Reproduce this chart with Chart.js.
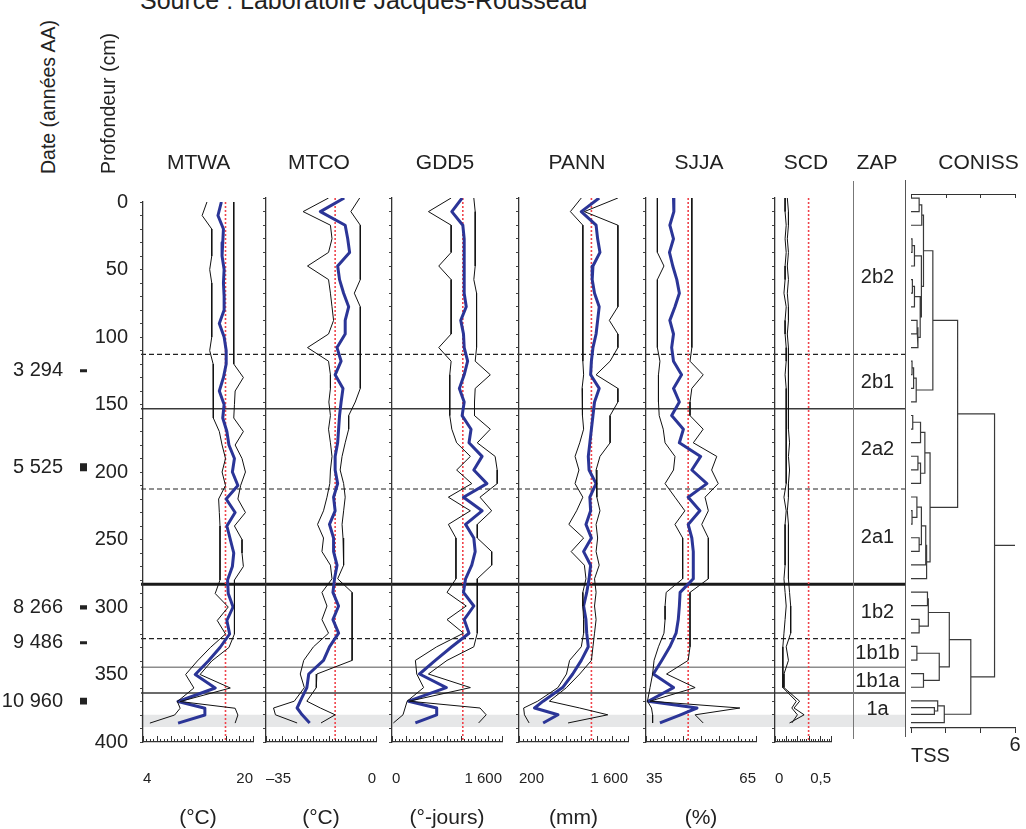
<!DOCTYPE html>
<html lang="fr"><head><meta charset="utf-8"><title>Reconstitution paléoclimatique</title>
<script src="https://cdn.jsdelivr.net/npm/chart.js@4.4.1/dist/chart.umd.min.js"></script>
<style>
html,body{margin:0;padding:0;background:#fff;width:1026px;height:829px;overflow:hidden;position:relative;font-family:'Liberation Sans',Arial,Helvetica,sans-serif;color:#222}
canvas{position:absolute}
.t{position:absolute;white-space:nowrap;line-height:1;color:#222}
.v{position:absolute;white-space:nowrap;line-height:1;color:#222;transform:rotate(-90deg);transform-origin:0 0}
.sep{position:absolute;width:0}
</style></head>
<body>
<script>
// ================= DATA =================
const depths = [0,10,20,30,40,50,60,70,80,90,100,110,120,130,140,150,160,170,180,190,200,210,220,230,240,250,260,270,280,290,300,310,320,330,340,350,360,370,375,380,386];

const mtwaMean = [15.4,14.9,15.7,15.6,15.5,15.8,15.7,15.8,15.8,15.1,15.8,16.1,16.1,15.7,15.1,15.8,15.6,16.2,16.5,17.3,17.0,17.8,16.1,17.4,16.2,16.7,17.2,17.0,16.3,16.4,17.1,16.2,16.6,15.2,13.5,11.6,14.5,9.1,13.0,13.0,9.1];
const mtwaLow  = [13.3,12.6,14.0,14.0,14.0,13.7,14.0,14.0,14.0,14.0,14.0,13.7,14.2,14.2,14.2,14.2,14.3,15.1,15.5,16.0,15.5,16.0,15.0,15.1,15.2,15.2,15.2,15.2,15.2,14.5,16.4,14.8,16.0,13.8,11.9,10.2,11.4,9.0,9.4,8.6,5.0];
const mtwaHigh = [17.2,17.2,17.2,17.2,17.2,17.2,17.2,17.2,17.2,17.2,17.2,17.2,17.2,18.6,17.4,17.3,17.2,18.6,17.4,18.4,18.9,18.2,17.8,18.9,17.3,18.4,18.4,18.6,17.3,17.3,17.3,17.3,17.3,16.5,14.0,12.3,16.7,9.4,17.4,17.8,17.4];
const mtwaModern = 16.0;

const mtcoMean = [-10.1,-17.7,-9.8,-9.0,-8.4,-12.2,-11.6,-10.3,-8.7,-9.8,-9.8,-12.4,-11.1,-13.0,-10.5,-11.1,-11.6,-11.9,-12.2,-13.0,-13.0,-12.2,-13.5,-13.0,-14.8,-13.5,-13.5,-12.4,-13.2,-13.7,-11.9,-13.7,-11.9,-14.8,-16.7,-21.4,-22.0,-24.1,-25.1,-23.5,-21.1];
const mtcoLow  = [-15.1,-23.2,-14.5,-14.0,-15.1,-21.8,-15.1,-14.5,-14.0,-13.5,-15.1,-21.8,-15.1,-14.5,-14.5,-15.0,-14.5,-15.1,-14.5,-14.0,-14.5,-14.7,-15.6,-16.7,-18.6,-16.7,-17.2,-14.5,-14.0,-17.2,-15.6,-17.2,-15.1,-19.9,-23.0,-24.1,-22.8,-26.0,-32.6,-32.0,-25.1];
const mtcoHigh = [-5.2,-8.0,-5.0,-5.0,-5.0,-5.0,-5.0,-6.9,-5.0,-5.0,-5.0,-5.0,-5.0,-5.0,-5.0,-6.6,-8.7,-8.7,-9.8,-10.8,-11.4,-10.3,-9.8,-10.3,-10.8,-10.5,-10.3,-10.3,-12.2,-7.6,-7.6,-7.6,-7.6,-7.6,-7.6,-18.8,-19.0,-22.0,-17.7,-13.0,-17.5];
const mtcoModern = -13.0;

const gdd5Mean = [1020,870,1030,1050,1050,1050,1050,1050,1080,1000,1040,1050,1100,1050,980,1050,1020,1150,1120,1310,1190,1380,1040,1310,1070,1190,1210,1160,1070,1040,1190,1050,1120,870,630,400,790,240,650,650,340];
const gdd5Low  = [860,530,860,860,860,680,860,860,860,860,860,680,860,840,840,840,840,870,940,1140,940,1160,820,1140,820,930,930,930,930,800,1080,800,1040,650,340,360,460,220,190,160,20];
const gdd5High = [1190,1210,1210,1210,1210,1210,1190,1230,1230,1230,1230,1230,1210,1430,1210,1200,1200,1430,1240,1500,1530,1530,1280,1450,1240,1240,1450,1450,1240,1240,1240,1240,1240,1190,800,530,1140,250,1280,1370,1260];
const gdd5Modern = 1030;

const pannMean = [1230,1000,1190,1210,1240,1150,1140,1170,1230,1210,1190,1150,1130,1120,1230,1170,1150,1130,1110,1090,1100,1190,1110,1120,1060,1130,1030,1120,1100,1070,1030,1060,1070,1090,1000,890,760,510,400,700,510];
const pannLow  = [1000,860,1020,1020,1020,1020,1020,1020,1020,1020,1020,1020,1020,1030,1010,1020,1010,1030,980,920,970,920,1020,940,840,1030,870,1040,1060,1020,1020,1030,1030,1000,850,810,700,440,260,270,330];
const pannHigh = [1470,1040,1470,1470,1470,1470,1470,1470,1470,1360,1470,1470,1370,1190,1470,1470,1370,1370,1370,1240,1190,1200,1200,1240,1190,1210,1190,1230,1170,1190,1170,1190,1170,1150,1130,980,810,590,980,1340,830];
const pannModern = 1130;

const sjjaMean = [42.5,42.6,41.5,42.5,41.4,42.3,43.4,44.1,42.9,41.5,42.5,42.0,42.5,44.7,42.5,44.1,42.0,45.2,44.1,49.9,47.5,51.6,46.5,49.7,46.5,47.5,47.9,47.9,47.9,44.3,44.1,43.8,43.2,41.5,39.3,37.0,42.5,35.6,48.9,44.4,38.8];
const sjjaLow  = [38.1,38.1,38.1,38.1,38.1,39.9,38.1,38.1,38.1,38.1,38.1,38.1,38.8,38.4,38.4,38.4,38.6,39.7,40.2,42.9,42.5,40.2,42.9,45.6,42.9,45.0,45.0,45.0,45.0,40.5,40.2,40.2,39.9,38.4,37.2,36.8,36.1,35.4,36.5,36.8,36.8];
const sjjaHigh = [47.5,47.5,47.5,47.5,47.5,47.5,47.5,47.5,47.5,47.5,47.5,47.5,47.0,50.6,47.5,47.0,47.0,50.6,47.9,54.3,52.9,54.7,51.1,52.0,50.2,52.0,52.0,52.0,52.0,47.0,47.0,47.0,47.0,47.0,46.5,40.6,48.4,36.1,60.6,48.4,50.6];
const sjjaModern = 46.5;

const scdLow  = [0.09,0.09,0.10,0.09,0.10,0.09,0.09,0.08,0.10,0.09,0.09,0.10,0.10,0.09,0.10,0.10,0.10,0.10,0.10,0.10,0.10,0.10,0.08,0.10,0.09,0.09,0.09,0.09,0.08,0.09,0.10,0.09,0.08,0.07,0.07,0.07,0.07,0.19,0.15,0.20,0.15];
const scdHigh = [0.11,0.12,0.12,0.11,0.12,0.11,0.12,0.11,0.12,0.12,0.11,0.12,0.12,0.12,0.12,0.12,0.12,0.12,0.13,0.12,0.13,0.12,0.12,0.11,0.12,0.12,0.12,0.12,0.12,0.13,0.14,0.14,0.14,0.10,0.12,0.08,0.08,0.22,0.17,0.26,0.13];
const scdModern = 0.3;

const panelNames = ['MTWA','MTCO','GDD5','PANN','SJJA','SCD'];
const panelUnits = ['(°C)','(°C)','(°-jours)','(mm)','(%)',''];
const axisMin = [4,-35,0,200,35,0];
const axisMax = [20,0,1600,1600,65,0.5];
const axisTickLabels = [['4','20'],['\u201335','0'],['0','1 600'],['200','1 600'],['35','65'],['0','0,5']];
const minorStep = [0.5,1,50,50,1,0.02];
const majorStep = [2,5,200,200,5,0.1];

// zones (ZAP)
const zoneNames = ['2b2','2b1','2a2','2a1','1b2','1b1b','1b1a','1a'];
const zoneTops  = [0,115,155,214,284,324,345,364];
const zoneBase  = 386;
const boundaryDepths = [115,155,214,284,324,345,364];
const boundaryLevel  = [3,2,3,1,3,4,2];
const bandTop = 380, bandBottom = 389;

// dates
const dateDepths = [127,198,301,327,370];
const dateLabels = ['3 294','5 525','8 266','9 486','10 960'];
const dateThickness = [2.2,6,3,2.2,5];

// CONISS: [childA, childB, TSS] ; numbers = sample index, 'mK' = merge K
const coniss = [
 [0,1,0.47],['m0',2,0.62],[3,4,0.06],['m2',5,0.2],[6,7,0.08],['m4',8,0.2],[9,10,0.35],['m6',11,0.4],
 ['m5','m7',0.53],['m3','m8',0.6],['m1','m9',0.72],[12,13,0.06],['m11',14,0.15],['m12',15,0.3],['m10','m13',1.26],
 [16,17,0.1],['m15',18,0.55],[19,20,0.4],['m17',21,0.55],['m16','m18',0.8],[23,24,0.06],[22,'m20',0.34],[25,26,0.47],
 ['m21','m22',0.6],['m23',27,0.85],['m24',28,0.9],['m19','m25',1.1],['m14','m26',2.69],
 [29,30,0.95],[31,32,0.47],['m28','m29',1.0],[33,34,0.34],[35,36,0.72],['m31','m32',1.63],['m30','m33',2.21],
 [38,39,1.35],[37,'m35',1.54],['m36',40,1.92],['m34','m37',3.45],['m27','m38',4.82]
];
const tssMax = 6;

// ================= DRAWING =================
Chart.defaults.font.family = "'Liberation Sans', Arial, Helvetica, sans-serif";
Chart.defaults.color = '#222';

const panelMeans = [mtwaMean,mtcoMean,gdd5Mean,pannMean,sjjaMean,null];
const panelLows  = [mtwaLow,mtcoLow,gdd5Low,pannLow,sjjaLow,scdLow];
const panelHighs = [mtwaHigh,mtcoHigh,gdd5High,pannHigh,sjjaHigh,scdHigh];
const panelModern = [mtwaModern,mtcoModern,gdd5Modern,pannModern,sjjaModern,scdModern];

// layout (pixels)
const PLOT_TOP = 198, PLOT_H = 544, PAD_T = 20, XAX_H = 89, LBL_PAD = 28;
const panelX = [143,266,392,519,646,775];
const panelW = [110,110,110,109,110,56];
const titleX = [198.7,319,445,577,699,806];

function makeCanvas(left, top, w, h) {
  const c = document.createElement('canvas');
  c.width = w; c.height = h;
  c.style.left = left + 'px'; c.style.top = top + 'px';
  c.style.width = w + 'px'; c.style.height = h + 'px';
  document.body.appendChild(c);
  return c;
}
function addText(txt, x, capY, size, anchor) {
  const d = document.createElement('div');
  d.className = 't'; d.textContent = txt; d.style.fontSize = size + 'px';
  d.style.top = (capY - 0.4885 * size) + 'px';
  d.style.left = x + 'px';
  if (anchor === 'center') d.style.transform = 'translateX(-50%)';
  document.body.appendChild(d);
}
function addVText(txt, left, bottom, size) {
  const d = document.createElement('div');
  d.className = 'v'; d.textContent = txt; d.style.fontSize = size + 'px';
  d.style.left = left + 'px'; d.style.top = bottom + 'px';
  document.body.appendChild(d);
}
function addSep(x, y1, y2, w, color) {
  const d = document.createElement('div');
  d.className = 'sep';
  d.style.left = x + 'px'; d.style.top = y1 + 'px'; d.style.height = (y2 - y1) + 'px';
  d.style.borderLeft = w + 'px solid ' + color;
  document.body.appendChild(d);
}
const zip = (vals) => vals.map((v, i) => ({x: v, y: depths[i]}));

function edgeTicksPlugin(sets) {
  return { id: 'edgeTicks', afterDraw(chart) {
    const ctx = chart.ctx, a = chart.chartArea;
    ctx.save(); ctx.lineWidth = 1; ctx.strokeStyle = '#333'; ctx.beginPath();
    sets.forEach(s => {
      const sc = chart.scales[s.scale];
      const n = Math.round((s.to - s.from) / s.step);
      const y0 = s.edge === 'top' ? a.top : a.bottom;
      for (let i = 0; i <= n; i++) {
        const x = Math.round(sc.getPixelForValue(s.from + i * s.step)) + 0.5;
        ctx.moveTo(x, y0); ctx.lineTo(x, y0 + s.dir * s.len);
      }
      if (s.line) {
        ctx.moveTo(sc.getPixelForValue(s.from), Math.round(y0) + 0.5);
        ctx.lineTo(sc.getPixelForValue(s.to) + 1, Math.round(y0) + 0.5);
      }
    });
    ctx.stroke(); ctx.restore();
  }};
}
const depthTicks = () => { const t = []; for (let d = 0; d <= 400; d += 10) t.push({value: d}); return t; };
const baseOpts = { responsive: false, animation: false, events: [], devicePixelRatio: 1,
  plugins: { legend: {display: false}, tooltip: {enabled: false} } };

// ---- background: zone boundaries and grey band ----
(function () {
  const left = 141, width = 765;
  const c = makeCanvas(left, PLOT_TOP - PAD_T, width, PLOT_H + 2 * PAD_T);
  const styleOf = lvl => lvl === 1 ? {borderColor: '#1a1a1a', borderWidth: 3}
    : lvl === 2 ? {borderColor: '#3a3a3a', borderWidth: 1.4}
    : lvl === 3 ? {borderColor: '#222', borderWidth: 1.1, borderDash: [5, 3]}
    : {borderColor: '#8c8c8c', borderWidth: 1.6};
  const ds = [
    {data: [{x: 0, y: bandTop}, {x: 1, y: bandTop}], borderWidth: 0, pointRadius: 0},
    {data: [{x: 0, y: bandBottom}, {x: 1, y: bandBottom}], borderWidth: 0, pointRadius: 0, fill: '-1', backgroundColor: '#e6e7e8'}
  ];
  boundaryDepths.forEach((d, i) => ds.push(Object.assign({data: [{x: 0, y: d}, {x: 1, y: d}], pointRadius: 0}, styleOf(boundaryLevel[i]))));
  const zapLabels = { id: 'zapLabels', afterDatasetsDraw(chart) {
    const ctx = chart.ctx, ys = chart.scales.y, a = chart.chartArea;
    ctx.save(); ctx.fillStyle = '#222'; ctx.font = "20px 'Liberation Sans', Arial, sans-serif";
    ctx.textAlign = 'center'; ctx.textBaseline = 'middle';
    zoneNames.forEach((n, i) => {
      const bot = i < zoneTops.length - 1 ? zoneTops[i + 1] : zoneBase;
      ctx.fillText(n, a.right - 28.5, ys.getPixelForValue((zoneTops[i] + bot) / 2) + 1);
    });
    ctx.restore();
  }};
  new Chart(c, { type: 'line', data: {datasets: ds}, plugins: [zapLabels],
    options: Object.assign({}, baseOpts, {
      layout: {padding: {top: PAD_T, bottom: PAD_T, left: 0, right: 0}},
      scales: { x: {type: 'linear', display: false, min: 0, max: 1},
                y: {type: 'linear', display: false, min: 0, max: 400, reverse: true} }
    })});
})();

// ---- panels ----
panelNames.forEach((name, i) => {
  // the y axis box and right padding must be at least the tick-label padding (Chart.js adds it horizontally)
  const YW = i === 0 ? 60 : LBL_PAD + 2, RP = LBL_PAD + 2;
  const c = makeCanvas(panelX[i] - YW, PLOT_TOP - PAD_T, YW + panelW[i] + RP, PAD_T + PLOT_H + XAX_H);
  const ds = [
    {data: zip(panelLows[i]), borderColor: '#111', borderWidth: 1},
    {data: zip(panelHighs[i]), borderColor: '#111', borderWidth: 1}
  ];
  if (panelMeans[i]) ds.push({data: zip(panelMeans[i]), borderColor: '#2b3597', borderWidth: 3, borderJoinStyle: 'round'});
  ds.push({data: [{x: panelModern[i], y: 0}, {x: panelModern[i], y: 400}], borderColor: '#f0434b', borderWidth: 1.6, borderDash: [2, 2]});
  ds.forEach(d => { d.showLine = true; d.pointRadius = 0; d.tension = 0; });
  const ticks = edgeTicksPlugin([
    {scale: 'x', edge: 'bottom', dir: -1, from: axisMin[i], to: axisMax[i], step: minorStep[i], len: 3},
    {scale: 'x', edge: 'bottom', dir: -1, from: axisMin[i], to: axisMax[i], step: majorStep[i], len: 6}
  ]);
  new Chart(c, { type: 'scatter', data: {datasets: ds}, plugins: [ticks],
    options: Object.assign({}, baseOpts, {
      layout: {padding: {top: PAD_T, right: RP, left: 0, bottom: 0}},
      scales: {
        x: { type: 'linear', position: 'bottom', min: axisMin[i], max: axisMax[i],
             afterFit: s => { s.height = XAX_H; },
             afterBuildTicks: s => { s.ticks = [{value: axisMin[i]}, {value: axisMax[i]}]; },
             ticks: { align: 'inner', padding: LBL_PAD, maxRotation: 0, autoSkip: false, font: {size: 15}, color: '#222',
                      callback: (v, k) => axisTickLabels[i][k] },
             grid: { display: true, drawOnChartArea: false, drawTicks: false },
             border: { display: true, color: '#333', width: 1.2 },
             title: { display: panelUnits[i] !== '', text: panelUnits[i], font: {size: 21}, color: '#222', padding: 0 } },
        y: { type: 'linear', position: 'left', min: 0, max: 400, reverse: true,
             afterFit: s => { s.width = YW; },
             afterBuildTicks: s => { s.ticks = depthTicks(); },
             ticks: { display: i === 0, autoSkip: false, padding: 12, font: {size: 20}, color: '#222',
                      callback: v => (v % 50 === 0 ? String(v) : '') },
             grid: { display: true, drawOnChartArea: false, drawTicks: true, tickLength: 3, color: '#444' },
             border: { display: true, color: '#333', width: 1.3 } }
      }
    })});
});

// ---- dates ----
(function () {
  const c = makeCanvas(0, PLOT_TOP - PAD_T, 89, PLOT_H + 2 * PAD_T);
  const pts = [];
  dateDepths.forEach((d, i) => { pts.push({x: 0.5, y: d - dateThickness[i] / 2}, {x: 0.5, y: d + dateThickness[i] / 2}, {x: null, y: null}); });
  new Chart(c, { type: 'scatter',
    data: {datasets: [{data: pts, showLine: true, pointRadius: 0, borderColor: '#222', borderWidth: 7, borderCapStyle: 'butt', spanGaps: false}]},
    options: Object.assign({}, baseOpts, {
      layout: {padding: {top: PAD_T, bottom: PAD_T, left: 0, right: 0}},
      scales: {
        x: {type: 'linear', display: false, min: 0, max: 1},
        y: { type: 'linear', position: 'left', min: 0, max: 400, reverse: true,
             afterFit: s => { s.width = 78; },
             afterBuildTicks: s => { s.ticks = dateDepths.map(v => ({value: v})); },
             ticks: { autoSkip: false, padding: 7, font: {size: 20}, color: '#222', callback: (v, k) => dateLabels[k] },
             grid: { display: false }, border: { display: false } }
      }
    })});
})();

// ---- CONISS dendrogram ----
(function () {
  const pos = {}, hgt = {};
  const node = ch => typeof ch === 'number' ? {y: depths[ch], h: 0} : {y: pos[ch], h: hgt[ch]};
  const pts = [];
  coniss.forEach((m, k) => {
    const a = node(m[0]), b = node(m[1]), H = m[2];
    pts.push({x: a.h, y: a.y}, {x: H, y: a.y}, {x: H, y: b.y}, {x: b.h, y: b.y}, {x: null, y: null});
    pos['m' + k] = (a.y + b.y) / 2; hgt['m' + k] = H;
  });
  const root = 'm' + (coniss.length - 1);
  pts.push({x: hgt[root], y: pos[root]}, {x: tssMax, y: pos[root]});
  const c = makeCanvas(895, 174, 131, 594);
  const topAxis = edgeTicksPlugin([{scale: 'x', edge: 'top', dir: 1, from: 0, to: tssMax, step: 2, len: 4, line: true}]);
  new Chart(c, { type: 'scatter', plugins: [topAxis],
    data: {datasets: [{data: pts, showLine: true, pointRadius: 0, borderColor: '#3a3a3a', borderWidth: 1.2, spanGaps: false}]},
    options: Object.assign({}, baseOpts, {
      layout: {padding: {top: 20, left: 16, right: 11, bottom: 0}},
      scales: {
        x: { type: 'linear', position: 'bottom', min: 0, max: tssMax,
             afterFit: s => { s.height = 40; },
             afterBuildTicks: s => { s.ticks = [0, 2, 4, 6].map(v => ({value: v})); },
             ticks: { autoSkip: false, maxRotation: 0, padding: 0, font: {size: 20}, color: '#222',
                      callback: v => (v === tssMax ? String(v) : '') },
             grid: { display: true, drawOnChartArea: false, drawTicks: true, tickLength: 5, color: '#333' },
             border: { display: true, color: '#333', width: 1.2 },
             title: { display: true, text: 'TSS', align: 'start', font: {size: 20}, color: '#222', padding: 0 } },
        y: { type: 'linear', display: false, min: -3, max: 390, reverse: true }
      }
    })});
})();

// ---- separators and texts ----
addSep(852.5, 181, 739, 1.5, '#777');
addSep(905, 180, 737, 1.4, '#555');

addText('Source : Laboratoire Jacques-Rousseau', 140, 0, 25, 'left');
panelNames.forEach((n, i) => addText(n, titleX[i], 161.7, 21, 'center'));
addText('ZAP', 877, 161.7, 21, 'center');
addText('CONISS', 978.5, 161.7, 21, 'center');
addVText('Date (années AA)', 39, 174, 19.5);
addVText('Profondeur (cm)', 99, 174, 19.5);
</script>
</body></html>
